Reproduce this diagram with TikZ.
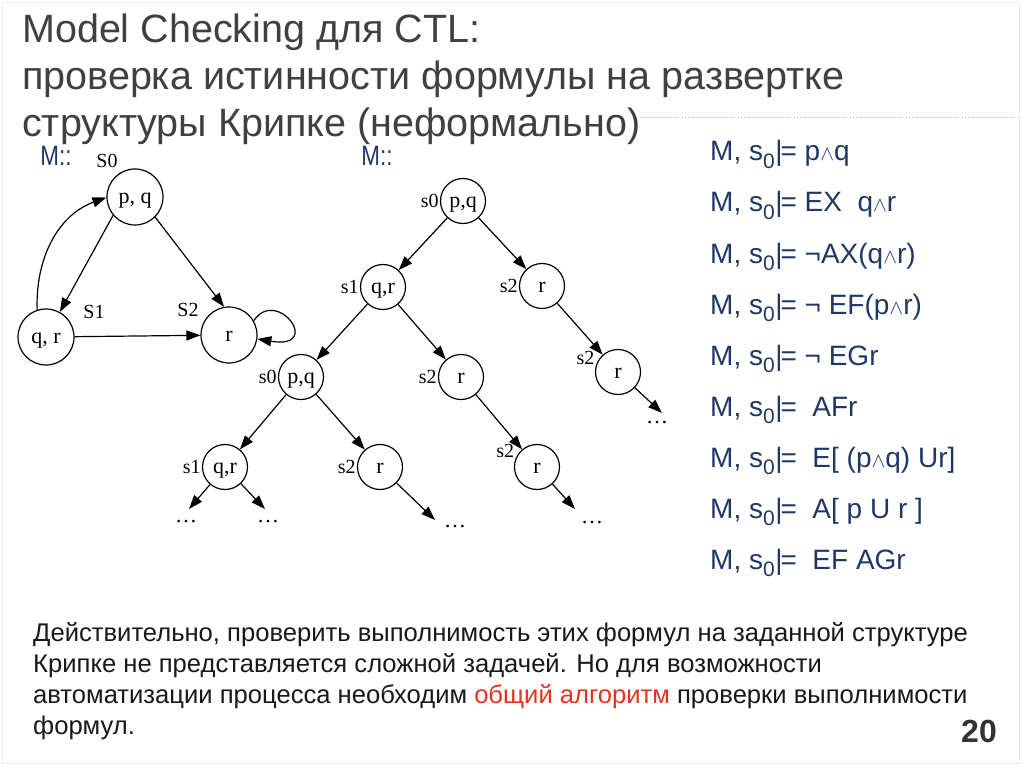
\documentclass[tikz,border=0pt]{standalone}
\usepackage{fontspec}
\setmainfont{Liberation Sans}
\newfontfamily\timesfont{Liberation Serif}
\newfontfamily\narrowfont[FakeStretch=0.8]{Liberation Sans}
\usepackage{xcolor}
\usetikzlibrary{arrows.meta, positioning}

\definecolor{titlegray}{HTML}{404040}
\definecolor{navy}{HTML}{1F3864}
\definecolor{algred}{HTML}{E8321E}

% "M, s0|=" head of each formula
\newcommand{\Ms}{M, s\raisebox{-0.28em}{\fontsize{21}{21}\selectfont 0}\kern0.5pt|\kern-2pt=}
\newcommand{\wdg}{{\fontsize{21}{21}\selectfont$\wedge$}}

\begin{document}
\begin{tikzpicture}[x=1pt, y=-1pt,
    state/.style={circle, draw, line width=1.2pt, minimum size=56pt, inner sep=0pt,
      text height=13pt, text depth=0pt, font=\timesfont\fontsize{22}{22}\selectfont},
    tstate/.style={state, minimum size=45pt},
    slab/.style={font=\timesfont\fontsize{20}{20}\selectfont, inner sep=1pt},
    edge/.style={line width=1.2pt, -{Triangle[length=14pt,width=10pt]}},
    dots/.style={font=\timesfont\fontsize{22}{22}\selectfont, inner sep=0pt},
    mlab/.style={text=navy, font=\narrowfont\fontsize{28}{28}\selectfont},
    formula/.style={anchor=base west, inner sep=0pt, text=navy,
      font=\fontsize{28}{28}\selectfont},
    titleline/.style={anchor=base west, inner sep=0pt, text=titlegray,
      font=\fontsize{39.5}{40}\selectfont},
    bodyline/.style={anchor=base west, inner sep=0pt, text=black!90,
      font=\fontsize{25.6}{26}\selectfont}]
  \useasboundingbox (0,0) rectangle (1024,767);
  \fill[white] (0,0) rectangle (1024,767);
  \draw[black!8] (2,2) rectangle (1019,763);

  % title
  \node[titleline] (title1) at (22,43) {Model Checking для CTL:};
  \node[titleline] (title2) at (22,90) {проверка истинности формулы на развертке};
  \node[titleline] (title3) at (22,137) {структуры Крипке (неформально)};
  \draw[gray!60, dotted, line width=0.8pt] (640,117) -- (1020,117);

  % Kripke structure M
  \node[mlab] (mleft) at (56,156) {M::};
  \node[state] (s0) at (135,197) {p, q};
  \node[state] (s1) at (46,337) {q, r};
  \node[state] (s2) at (229,335) {r};
  \node[slab] (ls0) at (107,161) {S0};
  \node[slab] (ls1) at (94,312) {S1};
  \node[slab] (ls2) at (188,310) {S2};
  \draw[edge] (s0.220) -- (s1.61);
  \draw[edge] (s1.108) to[out=92, in=200] (s0.181);
  \draw[edge] (s0.-45) -- (s2.100);
  \draw[edge] (s1) -- (s2);
  \draw[edge] (s2.30) .. controls (277,286) and (324,350) .. (s2.-8);

  % unfolding of M
  \node[mlab] (mright) at (377,156) {M::};
  \node[tstate, label={[slab]left:s0}] (t0) at (463,201) {p,q};
  \node[tstate, label={[slab]left:s1}] (t1) at (383,287) {q,r};
  \node[tstate, label={[slab]left:s2}] (t2) at (542,286) {r};
  \node[tstate, label={[slab]left:s0}] (t5) at (301,377) {p,q};
  \node[tstate, label={[slab]left:s2}] (t4) at (461,377) {r};
  \node[tstate, label={[slab]165:s2}] (t3) at (618,372) {r};
  \node[tstate, label={[slab]left:s1}] (t6) at (225,467) {q,r};
  \node[tstate, label={[slab]left:s2}] (t7) at (380,467) {r};
  \node[tstate, label={[slab]160:s2}] (t8) at (537,467) {r};
  \draw[edge] (t0) -- (t1);
  \draw[edge] (t0) -- (t2);
  \draw[edge] (t1) -- (t5);
  \draw[edge] (t1) -- (t4);
  \draw[edge] (t2) -- (t3);
  \draw[edge] (t5) -- (t6);
  \draw[edge] (t5) -- (t7);
  \draw[edge] (t4) -- (t8);

  % open ends
  \coordinate (e6a) at (189,509);
  \coordinate (e6b) at (265,509);
  \coordinate (e7) at (435,520);
  \coordinate (e8) at (575,509);
  \coordinate (e3) at (662,413);
  \node[dots] (d6a) at (186,522) {\ldots};
  \node[dots] (d6b) at (268,522) {\ldots};
  \node[dots] (d7) at (455,527) {\ldots};
  \node[dots] (d8) at (592,523) {\ldots};
  \node[dots] (d3) at (657,423) {\ldots};
  \draw[edge] (t6) -- (e6a);
  \draw[edge] (t6) -- (e6b);
  \draw[edge] (t7) -- (e7);
  \draw[edge] (t8) -- (e8);
  \draw[edge] (t3) -- (e3);

  % formulas
  \node[formula] (f1) at (710,161) {\Ms{} p\wdg q};
  \node[formula] (f2) at (710,212) {\Ms{} EX\ \ q\wdg r};
  \node[formula] (f3) at (710,263) {\Ms{} ¬AX(q\wdg r)};
  \node[formula] (f4) at (710,314) {\Ms{} ¬ EF(p\wdg r)};
  \node[formula] (f5) at (710,365) {\Ms{} ¬ EGr};
  \node[formula] (f6) at (710,416) {\Ms\ \ AFr};
  \node[formula] (f7) at (710,467) {\Ms\ \ E[ (p\wdg q) Ur]};
  \node[formula] (f8) at (710,518) {\Ms\ \ A[ p U r ]};
  \node[formula] (f9) at (710,569) {\Ms\ \ EF AGr};

  % remark
  \node[bodyline] (body1) at (33,641) {Действительно, проверить выполнимость этих формул на заданной структуре};
  \node[bodyline] (body2) at (33,672) {Крипке не представляется сложной задачей. Но для возможности};
  \node[bodyline] (body3) at (33,703) {автоматизации процесса необходим \textcolor{algred}{общий алгоритм} проверки выполнимости};
  \node[bodyline] (body4) at (33,734) {формул.};
  \node[anchor=base east, inner sep=0pt, text=black!80, font=\bfseries\fontsize{32}{32}\selectfont] (pageno) at (997,742) {20};
\end{tikzpicture}
\end{document}
